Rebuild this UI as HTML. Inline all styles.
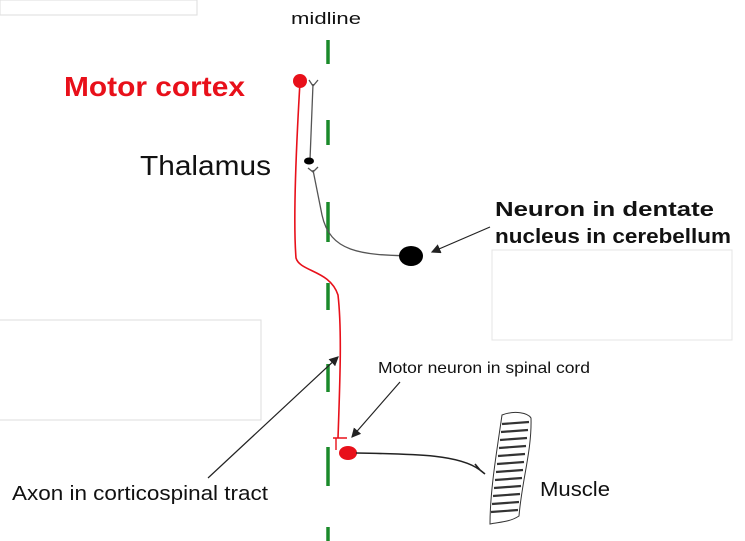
<!DOCTYPE html>
<html><head><meta charset="utf-8"><style>
html,body{margin:0;padding:0;background:#fff;}
svg{display:block;font-family:"Liberation Sans",sans-serif;}
</style></head><body>
<svg width="745" height="541" viewBox="0 0 745 541">
<defs><marker id="ah" markerWidth="8" markerHeight="8" refX="7" refY="4" orient="auto"><path d="M0,0 L8,4 L0,8 Z" fill="#222"/></marker></defs>
<rect x="0" y="0" width="197" height="15" fill="none" stroke="#ddd"/>
<rect x="-1" y="320" width="262" height="100" fill="none" stroke="#ddd"/>
<rect x="492" y="250" width="240" height="90" fill="none" stroke="#e4e4e4"/>
<text x="291" y="24" font-size="17" textLength="70" lengthAdjust="spacingAndGlyphs" fill="#111">midline</text>
<g stroke="#1a8a2a" stroke-width="3.5">
<line x1="328" y1="40" x2="328" y2="64"/><line x1="328" y1="120" x2="328" y2="145"/><line x1="328" y1="202" x2="328" y2="242"/><line x1="328" y1="283" x2="328" y2="310"/><line x1="328" y1="364" x2="328" y2="392"/><line x1="328" y1="447" x2="328" y2="486"/><line x1="328" y1="527" x2="328" y2="541"/>
</g>
<text x="64" y="96" font-size="28" textLength="181" lengthAdjust="spacingAndGlyphs" font-weight="bold" fill="#e8101a">Motor cortex</text>
<text x="140" y="175" font-size="28" textLength="131" lengthAdjust="spacingAndGlyphs" fill="#111">Thalamus</text>
<text x="495" y="216" font-size="20" textLength="219" lengthAdjust="spacingAndGlyphs" font-weight="bold" fill="#111">Neuron in dentate</text>
<text x="495" y="243" font-size="20" textLength="236" lengthAdjust="spacingAndGlyphs" font-weight="bold" fill="#111">nucleus in cerebellum</text>
<text x="378" y="373" font-size="16" textLength="212" lengthAdjust="spacingAndGlyphs" fill="#111">Motor neuron in spinal cord</text>
<text x="12" y="500" font-size="20" textLength="256" lengthAdjust="spacingAndGlyphs" fill="#111">Axon in corticospinal tract</text>
<text x="540" y="496" font-size="20" textLength="70" lengthAdjust="spacingAndGlyphs" fill="#111">Muscle</text>
<path d="M300,82 C296,150 293,220 296,258 C300,272 330,270 338,295 C342,330 340,380 338,438" fill="none" stroke="#e8101a" stroke-width="1.6"/>
<path d="M333,438 L347,438 M336,438 L336,450" fill="none" stroke="#e8101a" stroke-width="1.4"/>
<circle cx="300" cy="81" r="7" fill="#e8101a"/>
<path d="M310,160 L313,84 M309,80 L313,86 L318,80" fill="none" stroke="#555" stroke-width="1.3"/>
<ellipse cx="309" cy="161" rx="5" ry="3.5" fill="#000"/>
<path d="M412,256 C360,255 330,252 322,215 C317,190 315,180 313,170 M308,168 L313,172 L318,167" fill="none" stroke="#555" stroke-width="1.3"/>
<ellipse cx="411" cy="256" rx="12" ry="10" fill="#000"/>
<ellipse cx="348" cy="453" rx="9" ry="7" fill="#e8101a"/>
<path d="M356,453 C420,454 460,455 480,470 M475,464 L480,470 L485,474" fill="none" stroke="#222" stroke-width="1.6"/>
<g fill="none" stroke="#333">
<path d="M502,415 C515,410 528,413 531,418 C532,450 522,480 519,516 C510,522 500,522 490,524 C490,490 497,450 502,415 Z" stroke-width="1"/>
<g stroke-width="2.2"><line x1="502" y1="424" x2="529" y2="422"/><line x1="501" y1="432" x2="528" y2="430"/><line x1="500" y1="440" x2="527" y2="438"/><line x1="499" y1="448" x2="526" y2="446"/><line x1="498" y1="456" x2="525" y2="454"/><line x1="497" y1="464" x2="524" y2="462"/><line x1="496" y1="472" x2="523" y2="470"/><line x1="495" y1="480" x2="522" y2="478"/><line x1="494" y1="488" x2="521" y2="486"/><line x1="493" y1="496" x2="520" y2="494"/><line x1="492" y1="504" x2="519" y2="502"/><line x1="491" y1="512" x2="518" y2="510"/></g>
</g>
<g stroke="#222" stroke-width="1.2">
<line x1="490" y1="227" x2="432" y2="252" marker-end="url(#ah)"/>
<line x1="400" y1="382" x2="352" y2="437" marker-end="url(#ah)"/>
<line x1="208" y1="478" x2="338" y2="357" marker-end="url(#ah)"/>
</g>
</svg>
</body></html>
